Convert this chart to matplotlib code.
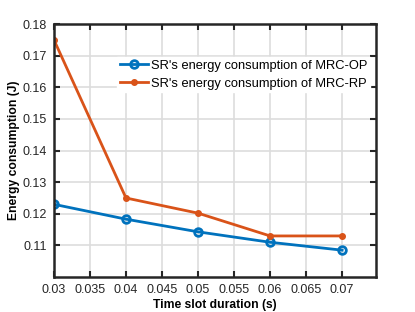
import matplotlib
matplotlib.use("Agg")
import matplotlib.pyplot as plt

plt.rcParams['font.family'] = ['Liberation Sans', 'DejaVu Sans']

slot = [0.03, 0.04, 0.05, 0.06, 0.07]
op = [0.123, 0.1183, 0.1143, 0.1110, 0.1085]
rp = [0.175, 0.125, 0.1202, 0.1130, 0.1130]
xticks = [0.03, 0.035, 0.04, 0.045, 0.05, 0.055, 0.06, 0.065, 0.07]
yticks = [0.11, 0.12, 0.13, 0.14, 0.15, 0.16, 0.17, 0.18]

fig = plt.figure(figsize=(4.15, 3.12), dpi=100)
ax = fig.add_axes([0.130, 0.112, 0.776, 0.811])

ax.plot(slot, op, color='#0072BD', lw=2, marker='o', ms=5.5, mfc='none', mew=2,
        label="SR's energy consumption of MRC-OP")
ax.plot(slot, rp, color='#D95319', lw=2, marker='o', ms=4,
        label="SR's energy consumption of MRC-RP")

ax.set_xlim(0.03, 0.0747)
ax.set_ylim(0.10, 0.18)
ax.set_xticks(xticks)
ax.set_xticklabels([f"{t:g}" for t in xticks])
ax.set_yticks(yticks)
ax.set_yticklabels([f"{t:g}" for t in yticks])
ax.grid(True, color='#dddddd', lw=1.2)
ax.set_axisbelow(True)
ax.tick_params(direction='in', top=True, right=True, length=4, width=1.5, labelsize=9,
               colors='#262626', pad=5)
for s in ax.spines.values():
    s.set_linewidth(1.8)
    s.set_color('#262626')
ax.set_xlabel('Time slot duration (s)', fontsize=8.7, fontweight='bold', labelpad=2)
ax.set_ylabel('Energy consumption (J)', fontsize=8.7, fontweight='bold', labelpad=2)
leg = ax.legend(loc='upper right', bbox_to_anchor=(1.0, 0.895), fontsize=9.3, frameon=True,
                fancybox=False, edgecolor='white', framealpha=1, handlelength=2.2,
                borderpad=0.2, labelspacing=0.45, handletextpad=0.2)
fig.savefig('out.png', dpi=100)
